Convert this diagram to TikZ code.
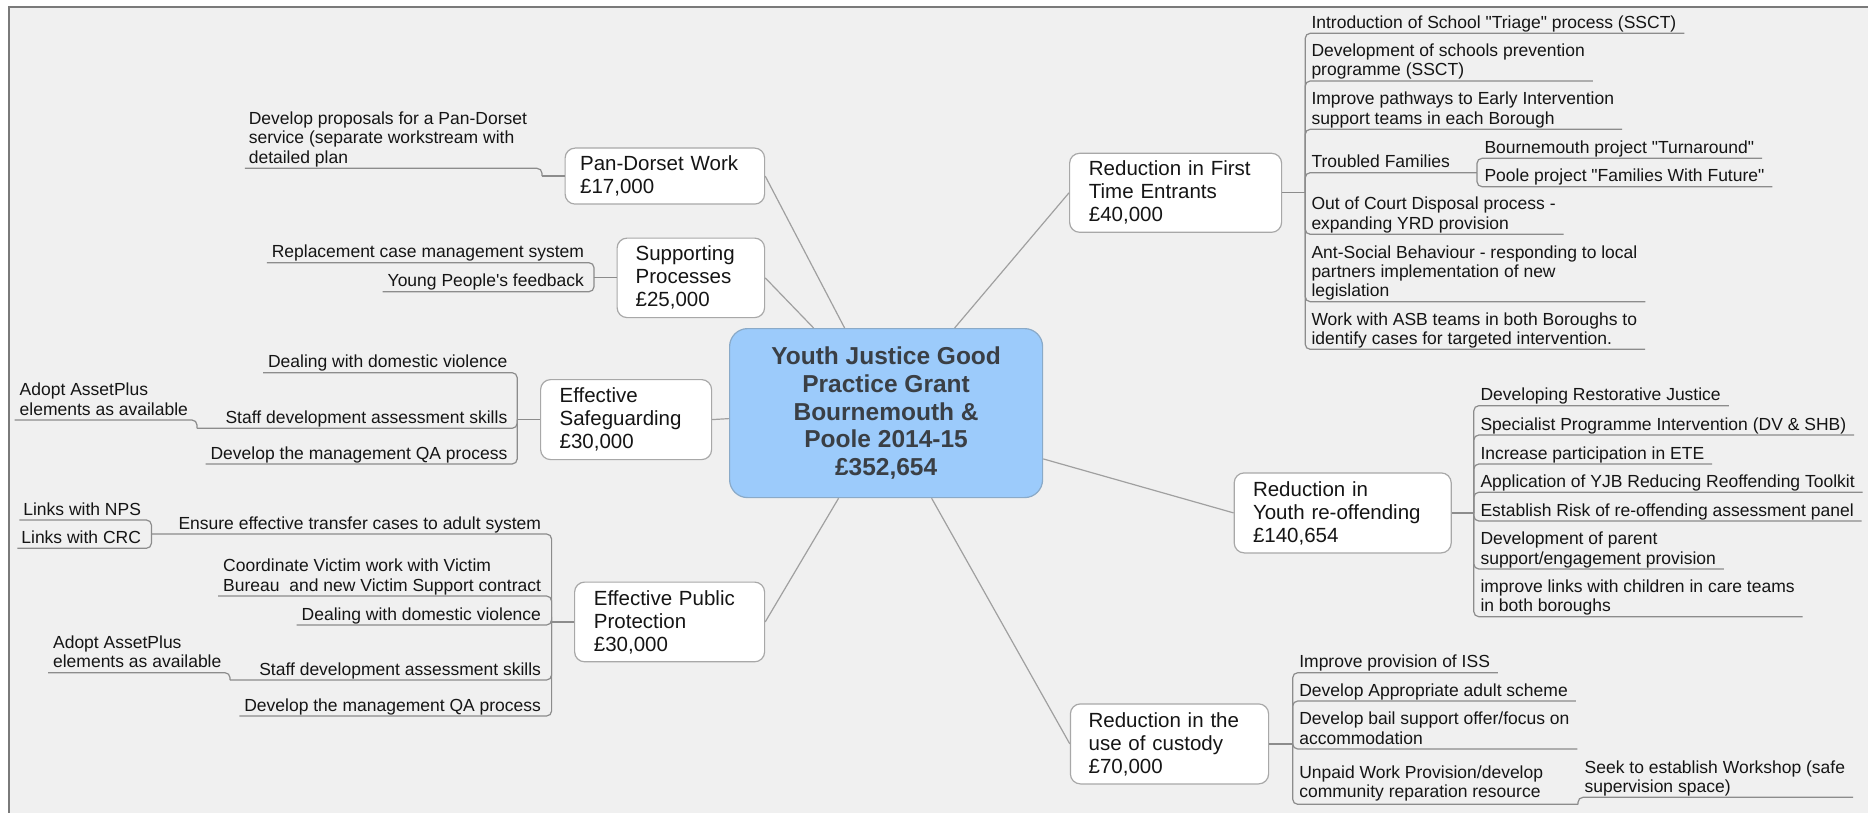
\documentclass[tikz,border=0pt]{standalone}
\usepackage{fontspec}
\setmainfont{Liberation Sans}
\usetikzlibrary{calc}
\definecolor{bgcol}{HTML}{F0F0F0}
\definecolor{framecol}{HTML}{7A7A7A}
\definecolor{linecol}{HTML}{A0A0A0}
\definecolor{ulcol}{HTML}{8C8C8C}
\definecolor{boxline}{HTML}{A8A8A8}
\definecolor{centrefill}{HTML}{9CCBFB}
\definecolor{centreline}{HTML}{8AAAC8}
\definecolor{centretext}{HTML}{3A3F45}
\definecolor{txt}{HTML}{151515}
\newcommand{\ulst}{\rule[-5pt]{0pt}{5pt}}
\newcommand{\sdq}{\XeTeXglyph\XeTeXcharglyph"22\relax}
\newcommand{\sap}{\XeTeXglyph\XeTeXcharglyph"27\relax}
\tikzset{
  topic/.style={draw=boxline, fill=white, line width=1.2pt, rounded corners=10pt, anchor=north west, inner ysep=0pt, align=left, font=\fontsize{20.5}{23}\selectfont, text=txt},
  leaf/.style={inner sep=0pt, outer sep=0pt, align=left, font=\fontsize{17.5}{19.3}\selectfont, text=txt},
  branch/.style={draw=ulcol, line width=1.2pt, rounded corners=5pt},
  spoke/.style={draw=linecol, line width=1.2pt},
}
\begin{document}
\begin{tikzpicture}[x=1pt,y=-1pt]
\useasboundingbox (0,0) rectangle (1868,813);
\fill[white] (0,0) rectangle (1868,813);
\fill[bgcol] (9,7) rectangle (1868,813);
\draw[framecol, line width=1.2pt] (9,813) -- (9,7) -- (1868,7);

% centre
\node[draw=centreline, fill=centrefill, line width=1.2pt, rounded corners=18pt, minimum width=313pt, minimum height=169pt, anchor=north west, align=center, font=\fontsize{24.5}{27.7}\selectfont\bfseries, text=centretext, inner sep=0pt] (c) at (729,328) {Youth Justice Good\\Practice Grant\\Bournemouth \&\\Poole 2014-15\\£352,654};

% main topics
\node[topic, minimum width=199.5pt, minimum height=56pt, text width=169.5pt, inner xsep=15pt] (pd) at (564.5,147.5) {Pan-Dorset Work\\£17,000};
\node[topic, minimum width=147.5pt, minimum height=79.5pt, text width=110.5pt, inner xsep=18.5pt] (sp) at (616.5,237.5) {Supporting\\Processes\\£25,000};
\node[topic, minimum width=171pt, minimum height=80pt, text width=133pt, inner xsep=19pt] (sg) at (540,379) {Effective\\Safeguarding\\£30,000};
\node[topic, minimum width=190pt, minimum height=79.7pt, text width=151.4pt, inner xsep=19.3pt] (pp) at (574,581.5) {Effective Public\\Protection\\£30,000};
\node[topic, minimum width=212pt, minimum height=79pt, text width=173.4pt, inner xsep=19.3pt] (fte) at (1069,152.7) {Reduction in First\\Time Entrants\\£40,000};
\node[topic, minimum width=217pt, minimum height=80pt, text width=179.4pt, inner xsep=18.8pt] (yo) at (1233.6,472.3) {Reduction in\\Youth re-offending\\£140,654};
\node[topic, minimum width=198.2pt, minimum height=80pt, text width=161.8pt, inner xsep=18.2pt] (cu) at (1069.8,703.3) {Reduction in the\\use of custody\\£70,000};

% spokes
\draw[spoke] (pd.east) -- ([xshift=-41.5pt]c.north);
\draw[spoke] (sp.east) -- ([xshift=-72.5pt]c.north);
\draw[spoke] (sg.east) -- ([yshift=-5.5pt]c.west);
\draw[spoke] (pp.east) -- ([xshift=-47.5pt]c.south);
\draw[spoke] (fte.west) -- ([xshift=68.5pt]c.north);
\draw[spoke] (yo.west) -- ([yshift=-45.8pt]c.east);
\draw[spoke] (cu.west) -- ([xshift=45.5pt]c.south);

% ---------- Reduction in First Time Entrants
\draw[branch] (fte.east) -- ++(23,0) coordinate (fteS);
\node[leaf, anchor=south west] (r1) at (1311.5,33.3) {Introduction of School \sdq Triage\sdq{} process (SSCT)\ulst};
\node[leaf, anchor=south west] (r2) at (1311.5,81) {Development of schools prevention\\programme (SSCT)\ulst};
\node[leaf, anchor=south west] (r3) at (1311.5,129.3) {Improve pathways to Early Intervention\\support teams in each Borough\ulst};
\node[leaf, anchor=south west] (r4) at (1311.5,172.7) {Troubled Families\ulst};
\node[leaf, anchor=south west] (r4a) at (1484.5,158.3) {Bournemouth project \sdq Turnaround\sdq\ulst};
\node[leaf, anchor=south west] (r4b) at (1484.5,186.7) {Poole project \sdq Families With Future\sdq\ulst};
\node[leaf, anchor=south west] (r5) at (1311.5,234.3) {Out of Court Disposal process -\\expanding YRD provision\ulst};
\node[leaf, anchor=south west] (r6) at (1311.5,301.7) {Ant-Social Behaviour - responding to local\\partners implementation of new\\legislation\ulst};
\node[leaf, anchor=south west] (r7) at (1311.5,349.3) {Work with ASB teams in both Boroughs to\\identify cases for targeted intervention.\ulst};
\coordinate (tfS) at (1477,172.7);
\draw[branch] (fteS) |- ([xshift=8pt]r1.south east);
\draw[branch] (fteS) |- ([xshift=8pt]r2.south east);
\draw[branch] (fteS) |- ([xshift=8pt]r3.south east);
\draw[branch] (fteS) |- (tfS);
\draw[branch] (tfS) |- ([xshift=8pt]r4a.south east);
\draw[branch] (tfS) |- ([xshift=8pt]r4b.south east);
\draw[branch] (fteS) |- ([xshift=8pt]r5.south east);
\draw[branch] (fteS) |- ([xshift=8pt]r6.south east);
\draw[branch] (fteS) |- ([xshift=8pt]r7.south east);

% ---------- Reduction in Youth re-offending
\draw[branch] (yo.east) -- ++(22,0) coordinate (yoS);
\node[leaf, anchor=south west] (y1) at (1480.5,405.7) {Developing Restorative Justice\ulst};
\node[leaf, anchor=south west] (y2) at (1480.5,435) {Specialist Programme Intervention (DV \& SHB)\ulst};
\node[leaf, anchor=south west] (y3) at (1480.5,464) {Increase participation in ETE\ulst};
\node[leaf, anchor=south west] (y4) at (1480.5,492.3) {Application of YJB Reducing Reoffending Toolkit\ulst};
\node[leaf, anchor=south west] (y5) at (1480.5,521) {Establish Risk of re-offending assessment panel\ulst};
\node[leaf, anchor=south west] (y6) at (1480.5,569) {Development of parent\\support/engagement provision\ulst};
\node[leaf, anchor=south west] (y7) at (1480.5,616.7) {improve links with children in care teams\\in both boroughs\ulst};
\foreach \n in {y1,y2,y3,y4,y5,y6,y7}{
  \draw[branch] (yoS) |- ([xshift=8pt]\n.south east);
}

% ---------- Reduction in the use of custody
\draw[branch] (cu.east) -- ++(23.5,0) coordinate (cuS);
\node[leaf, anchor=south west] (u1) at (1299.3,672.7) {Improve provision of ISS\ulst};
\node[leaf, anchor=south west] (u2) at (1299.3,701) {Develop Appropriate adult scheme\ulst};
\node[leaf, anchor=south west] (u3) at (1299.3,749) {Develop bail support offer/focus on\\accommodation\ulst};
\node[leaf, anchor=south west] (u4) at (1299.3,804.3) {Unpaid Work Provision/develop\\community reparation resource\rule[-7pt]{0pt}{7pt}};
\node[leaf, anchor=south west] (u4a) at (1584.7,797.3) {Seek to establish Workshop (safe\\supervision space)\ulst};
\coordinate (upS) at (1578,804.3);
\draw[branch] (cuS) |- ([xshift=8pt]u1.south east);
\draw[branch] (cuS) |- ([xshift=8pt]u2.south east);
\draw[branch] (cuS) |- ([xshift=8pt]u3.south east);
\draw[branch] (cuS) |- (upS);
\draw[branch] (upS) |- ([xshift=8pt]u4a.south east);

% ---------- Pan-Dorset Work
\draw[branch] (pd.west) -- ++(-22.5,0) coordinate (pdS);
\node[leaf, anchor=south east] (p1) at (527,168.3) {Develop proposals for a Pan-Dorset\\service (separate workstream with\\detailed plan\ulst};
\draw[branch] (pdS) |- ([xshift=-4pt]p1.south west);

% ---------- Supporting Processes
\draw[branch] (sp.west) -- ++(-22.5,0) coordinate (spS);
\node[leaf, anchor=south east] (s1) at (584,262.7) {Replacement case management system\ulst};
\node[leaf, anchor=south east] (s2) at (584,291.7) {Young People\sap s feedback\ulst};
\draw[branch] (spS) |- ([xshift=-5pt]s1.south west);
\draw[branch] (spS) |- ([xshift=-5pt]s2.south west);

% ---------- Effective Safeguarding
\draw[branch] (sg.west) -- ++(-22.8,0) coordinate (sgS);
\node[leaf, anchor=south east] (g1) at (507.3,372.7) {Dealing with domestic violence\ulst};
\node[leaf, anchor=south east] (g2) at (507.3,428.3) {Staff development assessment skills\ulst};
\node[leaf, anchor=south east] (g2a) at (188,420) {Adopt AssetPlus\\elements as available\ulst};
\node[leaf, anchor=south east] (g3) at (507.3,464) {Develop the management QA process\ulst};
\coordinate (g2S) at (197,428.3);
\draw[branch] (sgS) |- ([xshift=-5pt]g1.south west);
\draw[branch] (sgS) |- (g2S);
\draw[branch] (g2S) |- ([xshift=-5pt]g2a.south west);
\draw[branch] (sgS) |- ([xshift=-5pt]g3.south west);

% ---------- Effective Public Protection
\draw[branch] (pp.west) -- ++(-22.4,0) coordinate (ppS);
\node[leaf, anchor=south east] (e1) at (541,534) {Ensure effective transfer cases to adult system\ulst};
\node[leaf, anchor=south east] (e1a) at (141,520) {Links with NPS\ulst};
\node[leaf, anchor=south east] (e1b) at (141,548.3) {Links with CRC\ulst};
\node[leaf, anchor=south east] (e2) at (541,596) {Coordinate Victim work with Victim\\Bureau\ \ and new Victim Support contract\ulst};
\node[leaf, anchor=south east] (e3) at (541,625) {Dealing with domestic violence\ulst};
\node[leaf, anchor=south east] (e4) at (541,680) {Staff development assessment skills\ulst};
\node[leaf, anchor=south east] (e4a) at (221.4,672.7) {Adopt AssetPlus\\elements as available\ulst};
\node[leaf, anchor=south east] (e5) at (541,716) {Develop the management QA process\ulst};
\coordinate (e1S) at (151.4,534);
\coordinate (e4S) at (230,680);
\draw[branch] (ppS) |- (e1S);
\draw[branch] (e1S) |- ([xshift=-4pt]e1a.south west);
\draw[branch] (e1S) |- ([xshift=-4pt]e1b.south west);
\draw[branch] (ppS) |- ([xshift=-5pt]e2.south west);
\draw[branch] (ppS) |- ([xshift=-5pt]e3.south west);
\draw[branch] (ppS) |- (e4S);
\draw[branch] (e4S) |- ([xshift=-5pt]e4a.south west);
\draw[branch] (ppS) |- ([xshift=-5pt]e5.south west);
\end{tikzpicture}
\end{document}
